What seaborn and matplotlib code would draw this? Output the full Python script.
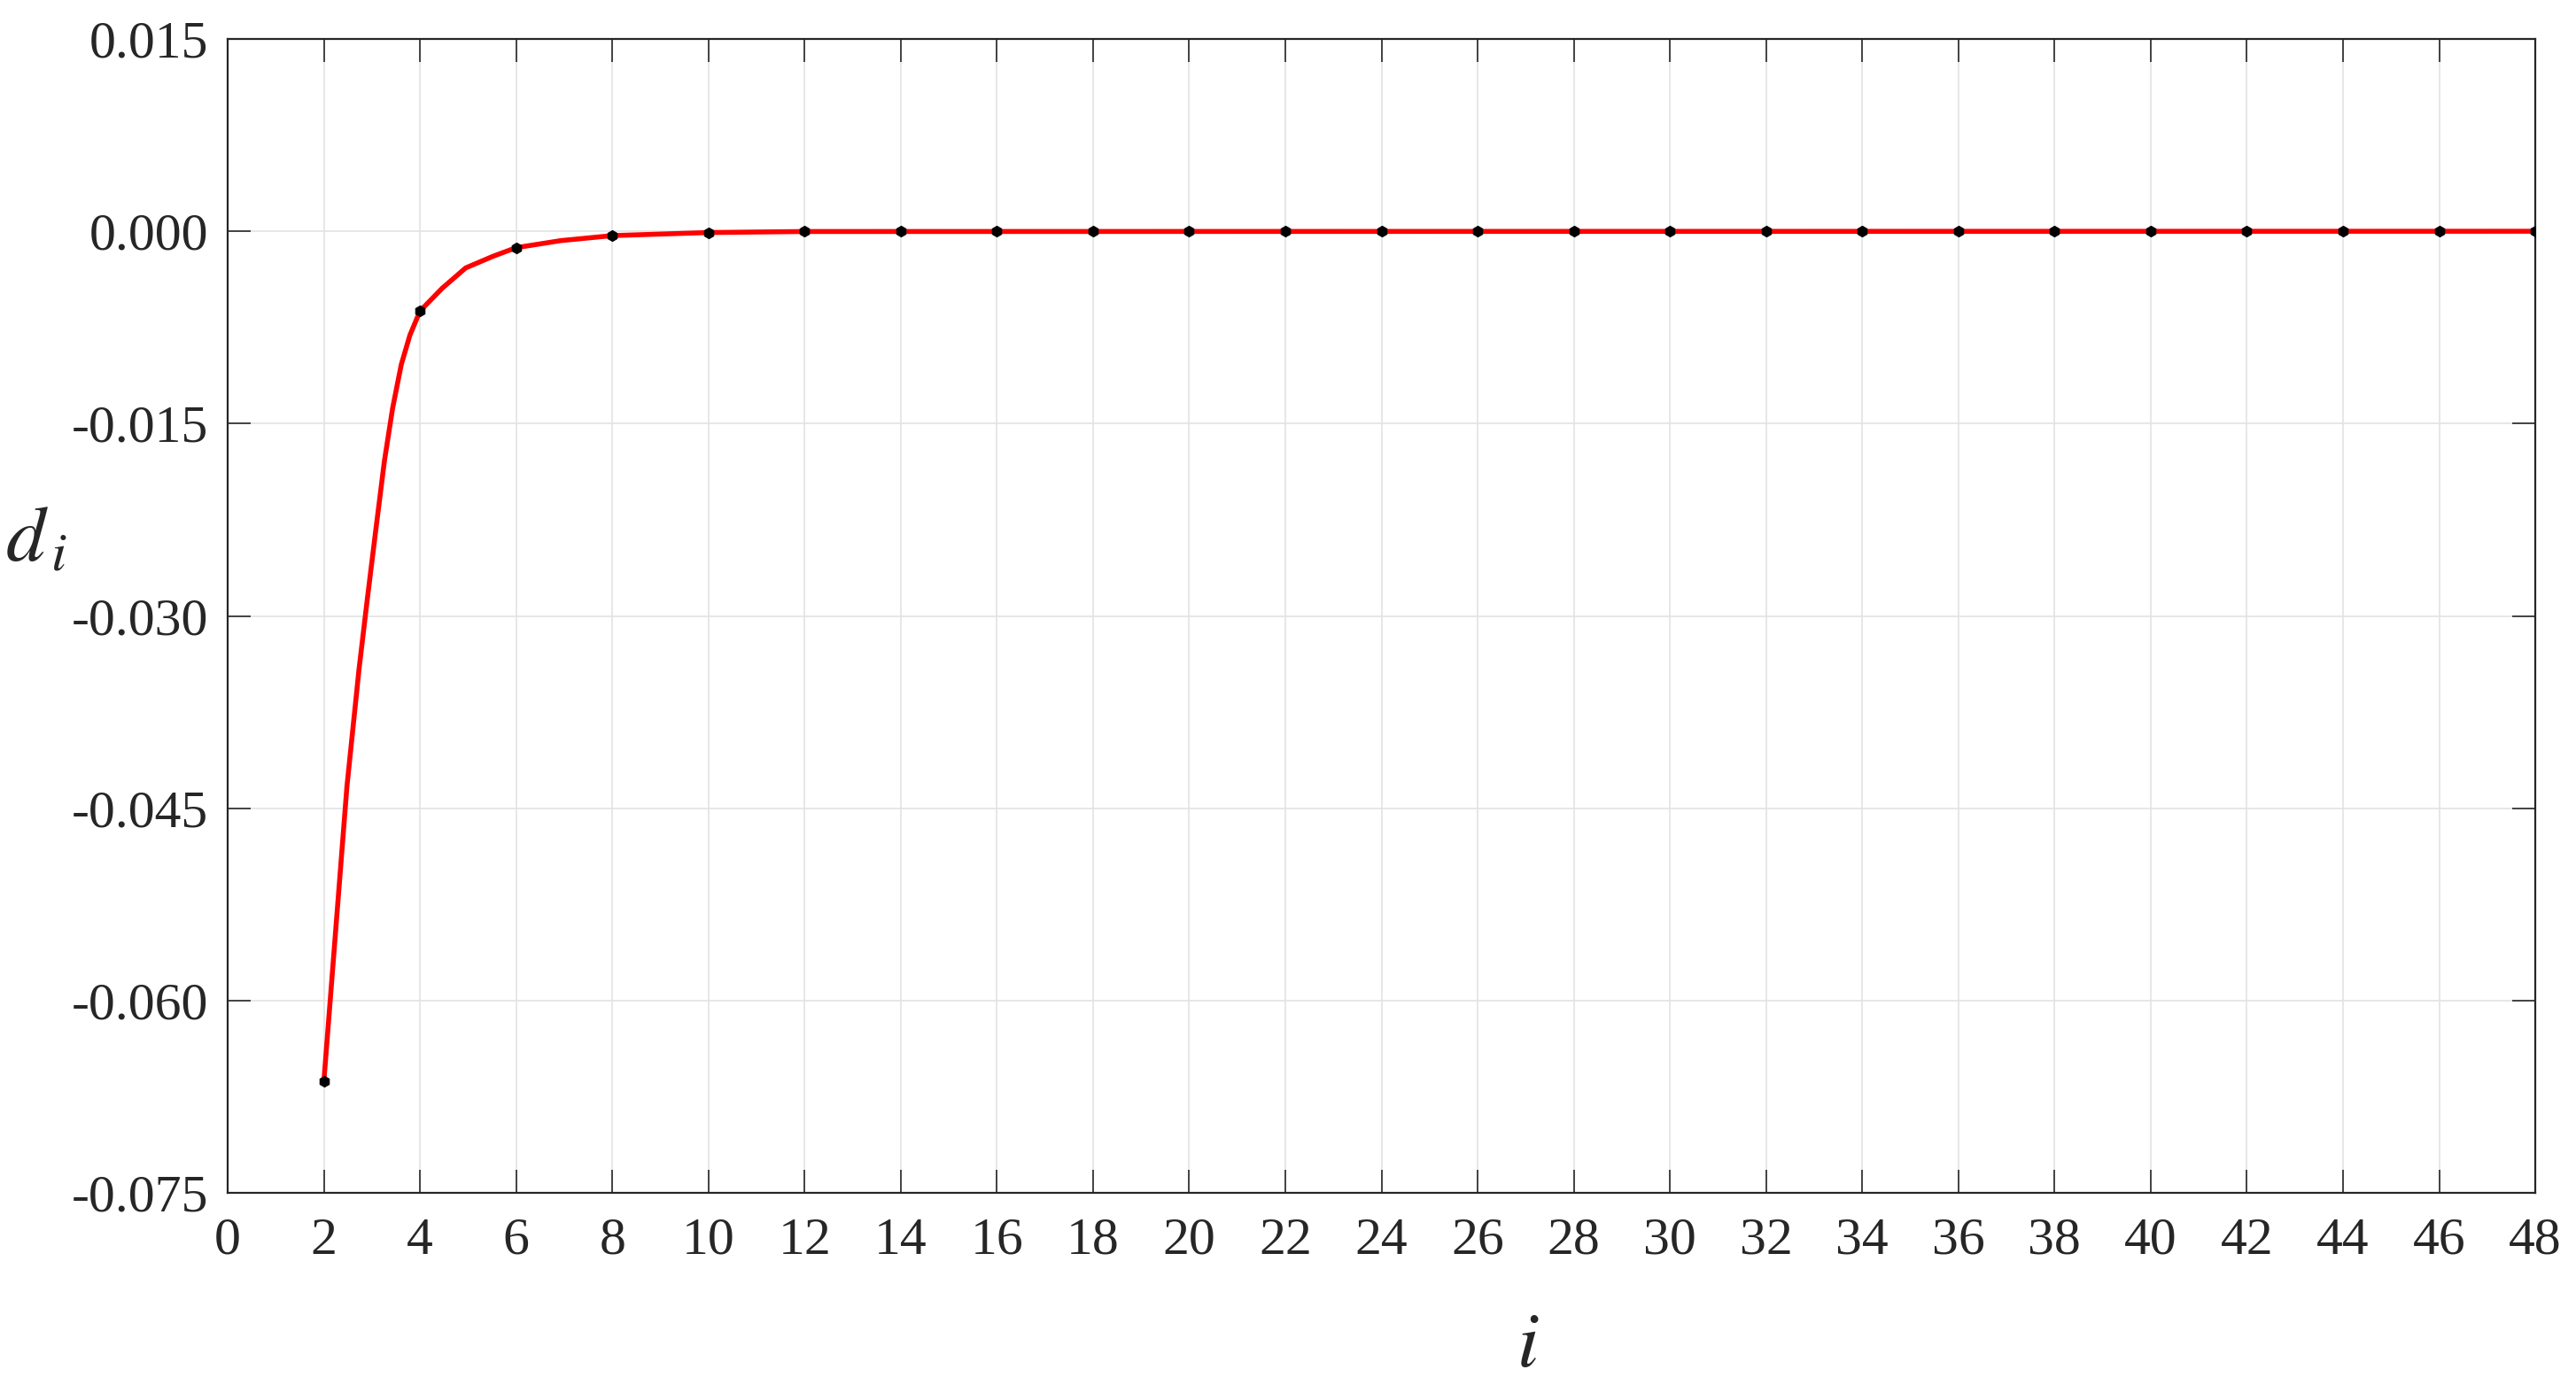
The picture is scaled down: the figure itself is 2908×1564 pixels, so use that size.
import numpy as np
import pandas as pd
import matplotlib
matplotlib.use("Agg")
import matplotlib.pyplot as plt
import seaborn as sns

# sampled values d_i at even i
i_vals = [2, 4, 6, 8, 10, 12, 14, 16, 18, 20, 22, 24, 26, 28, 30, 32, 34, 36, 38, 40, 42, 44, 46, 48]
d_vals = [-0.0663, -0.00622, -0.00128, -0.00034, -0.0001, -0.00002, 0.0, 0.0, 0.0, 0.0, 0.0, 0.0,
          0.0, 0.0, 0.0, 0.0, 0.0, 0.0, 0.0, 0.0, 0.0, 0.0, 0.0, 0.0]

# red curve
curve_i = [2.0, 2.48, 2.73, 2.90, 3.08, 3.26, 3.43, 3.61, 3.79, 4.0, 4.46, 4.95, 5.52, 6.0, 6.93,
           8.0, 10.0, 12.0, 48.0]
curve_d = [-0.0663, -0.0433, -0.0342, -0.0288, -0.0233, -0.0179, -0.0138, -0.0104, -0.0081, -0.00622,
           -0.00445, -0.00286, -0.00195, -0.00128, -0.00073, -0.00034, -0.0001, -0.00002, 0.0]

x_ticks = list(range(0, 49, 2))
y_ticks = [-0.075, -0.060, -0.045, -0.030, -0.015, 0.000, 0.015]

pts = pd.DataFrame({"i": i_vals, "d": d_vals})
crv = pd.DataFrame({"i": curve_i, "d": curve_d})

sns.set_theme(style="whitegrid")
plt.rcParams["font.family"] = ["Liberation Serif", "DejaVu Serif"]
plt.rcParams["mathtext.fontset"] = "stix"
plt.rcParams["axes.unicode_minus"] = False

fig, ax = plt.subplots(figsize=(14.54, 7.82), dpi=200)
fig.subplots_adjust(left=0.0884, right=0.9842, top=0.9719, bottom=0.1387)

sns.lineplot(data=crv, x="i", y="d", color="#ff0000", linewidth=2.0, ax=ax, zorder=3)
sns.scatterplot(data=pts, x="i", y="d", color="black", s=20, marker="h", edgecolor="black",
                linewidth=0.3, ax=ax, zorder=4)

ax.set_xlim(0, 48)
ax.set_ylim(-0.075, 0.015)
ax.set_xticks(x_ticks)
ax.set_yticks(y_ticks)
ax.set_yticklabels([f"{v:.3f}" for v in y_ticks])

ax.grid(True, color="#e3e3e3", linewidth=0.6)
for sp in ax.spines.values():
    sp.set_color("#262626")
    sp.set_linewidth(0.8)
ax.tick_params(axis="both", which="both", direction="in", length=9.5, width=0.6, color="#262626",
               labelsize=21.5, labelcolor="#262626", top=True, right=True, bottom=True, left=True)
ax.tick_params(axis="x", pad=10)
ax.tick_params(axis="y", pad=8)

ax.set_xlabel("$i$", fontsize=32, va="center")
ax.xaxis.set_label_coords(0.5635, -0.134)
ax.set_ylabel("$d_{\\,i}$", fontsize=32, rotation=0, ha="center", va="center")
ax.yaxis.set_label_coords(-0.083, 0.565)

fig.savefig("out.png", dpi=200, facecolor="white")
